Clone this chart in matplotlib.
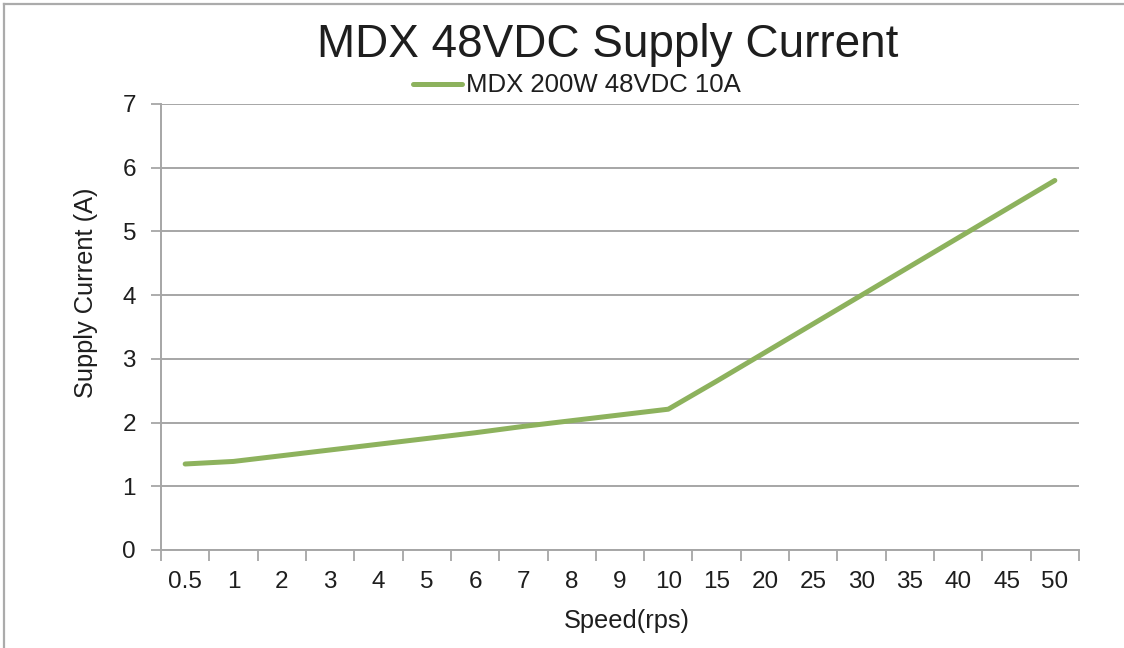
import matplotlib
matplotlib.use("Agg")
import matplotlib.pyplot as plt
from matplotlib.lines import Line2D

plt.rcParams['font.family'] = ['Liberation Sans', 'DejaVu Sans']

speeds = ["0.5", "1", "2", "3", "4", "5", "6", "7", "8", "9", "10",
          "15", "20", "25", "30", "35", "40", "45", "50"]
current = [1.35, 1.39, 1.48, 1.57, 1.66, 1.75, 1.84, 1.94, 2.03, 2.12, 2.21,
           2.65, 3.10, 3.55, 4.00, 4.45, 4.90, 5.35, 5.80]
series_name = "MDX 200W 48VDC 10A"
title = "MDX 48VDC Supply Current"
y_ticks = [0, 1, 2, 3, 4, 5, 6, 7]

W, H = 1124, 648
fig = plt.figure(figsize=(W / 100, H / 100), dpi=100)
fig.patch.set_facecolor("white")

ax = fig.add_axes([161 / W, 1 - 550 / H, (1079 - 161) / W, (550 - 104) / H])
green = "#8DB25D"
grid_c = "#A6A6A6"
txt_c = "#1e1e1e"
x = list(range(len(speeds)))
ax.plot(x, current, color=green, lw=3.6, solid_capstyle="round",
        solid_joinstyle="round", zorder=3)

ax.set_xlim(-0.5, len(speeds) - 0.5)
ax.set_ylim(0, 7)
ax.set_yticks(y_ticks)
ax.set_yticklabels([str(v) for v in y_ticks])
ax.set_xticks(x)
ax.set_xticklabels(speeds)
ax.set_xticks([i - 0.5 for i in range(len(speeds) + 1)], minor=True)
ax.tick_params(axis="x", which="major", length=0, pad=15, labelsize=17.5,
               colors=txt_c)
ax.tick_params(axis="x", which="minor", length=8, width=1.3, color=grid_c,
               direction="out")
ax.tick_params(axis="y", which="major", length=7, width=1.3, color=grid_c,
               pad=11, labelsize=17.5, labelcolor=txt_c)
ax.yaxis.grid(True, color=grid_c, lw=1.4)
ax.set_axisbelow(True)
for s in ["top", "right"]:
    ax.spines[s].set_visible(False)
for s in ["left", "bottom"]:
    ax.spines[s].set_color(grid_c)
    ax.spines[s].set_linewidth(1.4)

fig.text(607.5 / W, 1 - 56.7 / H, title, ha="center", va="baseline",
         fontsize=33, color=txt_c)
fig.add_artist(Line2D([412.5 / W, 461.5 / W], [1 - 84 / H, 1 - 84 / H],
                      color=green, lw=3.6, solid_capstyle="round"))
fig.text(466 / W, 1 - 91.7 / H, series_name, ha="left", va="baseline",
         fontsize=18.5, color=txt_c)
fig.text(626.5 / W, 1 - 628.3 / H, "Speed(rps)", ha="center", va="baseline",
         fontsize=18.3, color=txt_c)
fig.text(93.3 / W, 1 - 292.5 / H, "Supply Current (A)", ha="center",
         va="baseline", rotation=90, rotation_mode="anchor",
         fontsize=18.3, color=txt_c)

border = "#ABABAB"
fig.add_artist(Line2D([4 / W, 1], [1 - 4 / H, 1 - 4 / H], color=border, lw=1.6))
fig.add_artist(Line2D([4 / W, 4 / W], [0, 1 - 4 / H], color=border, lw=1.6))

fig.savefig("out.png", dpi=100, facecolor="white")
